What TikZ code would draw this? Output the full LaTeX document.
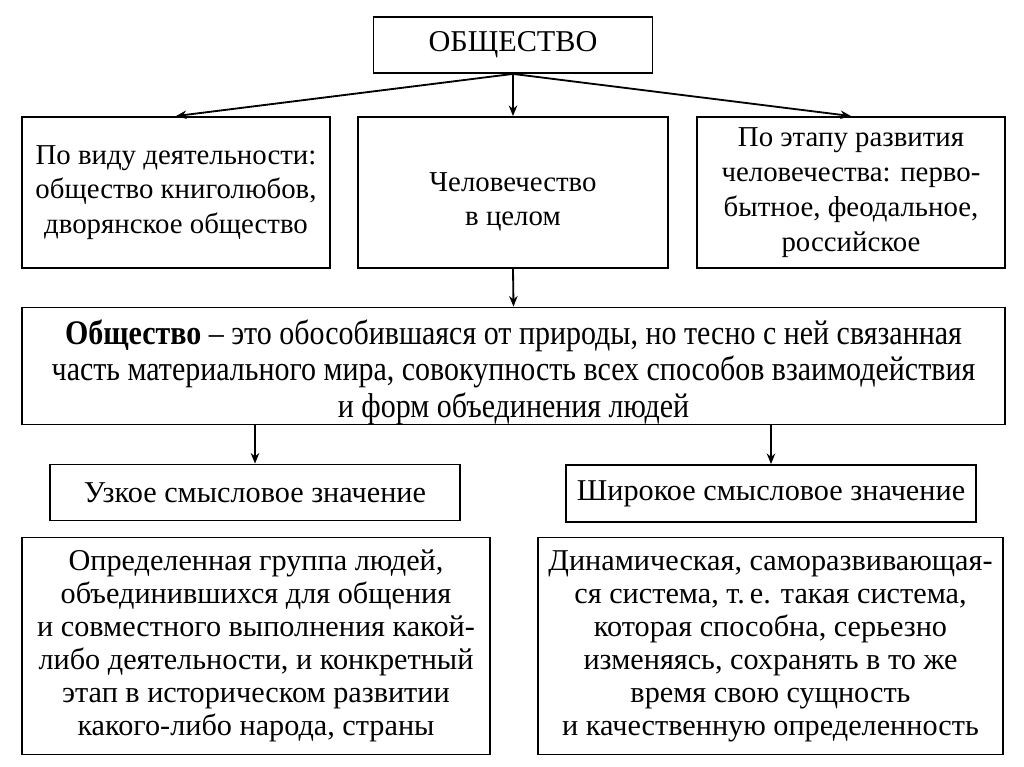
\documentclass[tikz,border=0pt]{standalone}
\usepackage{fontspec}
\setmainfont{Liberation Serif}
\newfontfamily\narrowfont[FakeStretch=0.87]{Liberation Serif}
\usetikzlibrary{arrows.meta}

\begin{document}
\begin{tikzpicture}[x=0.025cm,y=-0.025cm,
  box/.style={draw,line width=1.3pt,inner sep=0pt,align=center,
    font=\fontsize{21.5}{23.5}\selectfont},
  arr/.style={line width=1.3pt,-{Stealth[length=7.5pt,width=6pt]}}]
\useasboundingbox (0,0) rectangle (1024,767);

\node[box,minimum width=6.975cm,minimum height=1.4cm] (root) at (513,45) {ОБЩЕСТВО};

\node[box,minimum width=7.7cm,minimum height=3.775cm,
  font=\fontsize{20.5}{24.5}\selectfont] (kind) at (176,192.5)
  {По виду деятельности:\\общество книголюбов,\\дворянское общество};
\node[box,minimum width=7.75cm,minimum height=3.775cm,
  font=\fontsize{20.5}{24.5}\selectfont] (mankind) at (513,192.5)
  {\rule{0pt}{27pt}Человечество\\в целом};
\node[box,minimum width=7.7cm,minimum height=3.775cm,
  font=\fontsize{20.5}{25}\selectfont] (stage) at (851,192.5)
  {По этапу развития\\человечества: перво-\\бытное, феодальное,\\российское};

\node[box,minimum width=24.575cm,minimum height=2.9cm,
  font=\narrowfont\fontsize{24.5}{26}\selectfont] (defn) at (513.5,366)
  {\rule{0pt}{26pt}\textbf{Общество} – это обособившаяся от природы, но тесно с ней связанная\\
   часть материального мира, совокупность всех способов взаимодействия\\
   и форм объединения людей};

\node[box,minimum width=10.25cm,minimum height=1.4cm] (narrow) at (255,492.5)
  {Узкое смысловое значение};
\node[box,minimum width=10.25cm,minimum height=1.425cm] (wide) at (771,493.5)
  {Широкое смысловое значение};

\node[box,minimum width=11.7cm,minimum height=5.425cm] (narrowtxt) at (256,646)
  {Определенная группа людей,\\объединившихся для общения\\и совместного выполнения какой-\\
   либо деятельности, и конкретный\\этап в историческом развитии\\какого-либо народа, страны};
\node[box,minimum width=11.625cm,minimum height=5.425cm] (widetxt) at (770.5,646)
  {Динамическая, саморазвивающая-\\ся система, т.\,е. такая система,\\которая способна, серьезно\\
   изменяясь, сохранять в то же\\время свою сущность\\и качественную определенность};

\draw[arr] (root.south) -- (kind.north);
\draw[arr] (root.south) -- (mankind.north);
\draw[arr] (root.south) -- (stage.north);
\draw[arr] (mankind.south) -- (defn.north);
\draw[arr] (narrow.north |- defn.south) -- (narrow.north);
\draw[arr] (wide.north |- defn.south) -- (wide.north);
\end{tikzpicture}
\end{document}
